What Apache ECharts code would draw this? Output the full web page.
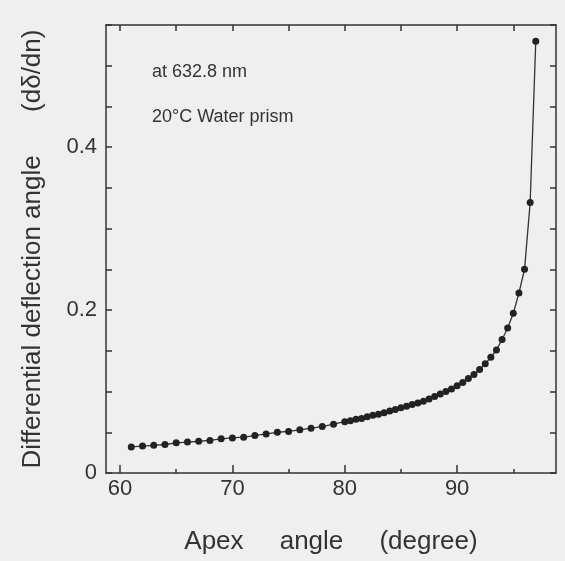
<!DOCTYPE html>
<html><head><meta charset="utf-8">
<script src="https://cdn.jsdelivr.net/npm/echarts@6/dist/echarts.min.js"></script>
<style>html,body{margin:0;padding:0;background:#efefef}#c{width:565px;height:561px}</style>
</head><body><div id="c"></div>
<script>
// Apex angle (degree)
const apexAngle = [61,62,63,64,65,66,67,68,69,70,71,72,73,74,75,76,77,78,79,80,
  80.5,81,81.5,82,82.5,83,83.5,84,84.5,85,85.5,86,86.5,87,87.5,88,88.5,89,89.5,90,
  90.5,91,91.5,92,92.5,93,93.5,94,94.5,95,95.5,96,96.5,97];
// Differential deflection angle (dδ/dn)
const deflection = [0.032,0.033,0.034,0.035,0.037,0.038,0.039,0.040,0.042,0.043,
  0.044,0.046,0.048,0.050,0.051,0.053,0.055,0.057,0.060,0.063,
  0.064,0.066,0.067,0.069,0.071,0.072,0.074,0.076,0.078,0.080,
  0.082,0.084,0.086,0.088,0.091,0.094,0.097,0.100,0.103,0.107,
  0.111,0.116,0.121,0.127,0.134,0.142,0.151,0.164,0.178,0.196,
  0.221,0.250,0.332,0.530];
const xLabelValues = [60,70,80,90];
const xMinorTicks = [65,75,85,95];
const xTopTicks = [60,65,70,75,80,85,90,95];
const yLabelValues = [0,0.2,0.4];

const FONT = 'Liberation Sans, Arial, sans-serif';
const INK = '#333';
const xMin = 58.75, xMax = 98.8, yMin = 0, yMax = 0.55;

const chart = echarts.init(document.getElementById('c'), null, {renderer:'canvas'});
const lineStyle = {color: INK, width: 1.5};
chart.setOption({
  backgroundColor: '#efefef',
  animation: false,
  grid: {left: 106, right: 9, top: 25, bottom: 88},
  xAxis: [
    {type:'value', position:'bottom', min:xMin, max:xMax,
     axisLine:{show:true, lineStyle},
     axisTick:{show:true, inside:true, length:8, customValues:xLabelValues, lineStyle},
     axisLabel:{show:true, customValues:xLabelValues, fontSize:22, color:INK, fontFamily:FONT, margin:5},
     splitLine:{show:false},
     name:'Apex     angle     (degree)', nameLocation:'middle', nameGap:56,
     nameTextStyle:{fontSize:26, color:INK, fontFamily:FONT}},
    {type:'value', position:'bottom', min:xMin, max:xMax,
     axisLine:{show:false},
     axisTick:{show:true, inside:true, length:4, customValues:xMinorTicks, lineStyle},
     axisLabel:{show:false}, splitLine:{show:false}},
    {type:'value', position:'top', min:xMin, max:xMax,
     axisLine:{show:true, lineStyle},
     axisTick:{show:true, inside:true, length:6, customValues:xTopTicks, lineStyle},
     axisLabel:{show:false}, splitLine:{show:false}}
  ],
  yAxis: [
    {type:'value', position:'left', min:yMin, max:yMax, interval:0.05,
     axisLine:{show:true, lineStyle},
     axisTick:{show:true, inside:true, length:6, lineStyle},
     axisLabel:{show:true, customValues:yLabelValues, fontSize:22, color:INK, fontFamily:FONT, margin:9,
       formatter: v => v === 0 ? '0' : v.toFixed(1)},
     splitLine:{show:false},
     name:'Differential deflection angle      (dδ/dn)', nameLocation:'middle', nameGap:60,
     nameTextStyle:{fontSize:26, color:INK, fontFamily:FONT}},
    {type:'value', position:'right', min:yMin, max:yMax, interval:0.05,
     axisLine:{show:true, lineStyle},
     axisTick:{show:true, inside:true, length:6, lineStyle},
     axisLabel:{show:false}, splitLine:{show:false}}
  ],
  graphic: [
    {type:'text', left:152, top:63, style:{text:'at 632.8 nm', fontSize:18, fill:INK, fontFamily:FONT}},
    {type:'text', left:152, top:108, style:{text:'20°C Water prism', fontSize:18, fill:INK, fontFamily:FONT}}
  ],
  series: [{
    type:'line', xAxisIndex:0, yAxisIndex:0,
    data: apexAngle.map((a,i)=>[a, deflection[i]]),
    symbol:'circle', symbolSize:7, showSymbol:true,
    itemStyle:{color:'#222'},
    lineStyle:{color:'#333', width:1.3},
    smooth:false
  }]
});
</script></body></html>
